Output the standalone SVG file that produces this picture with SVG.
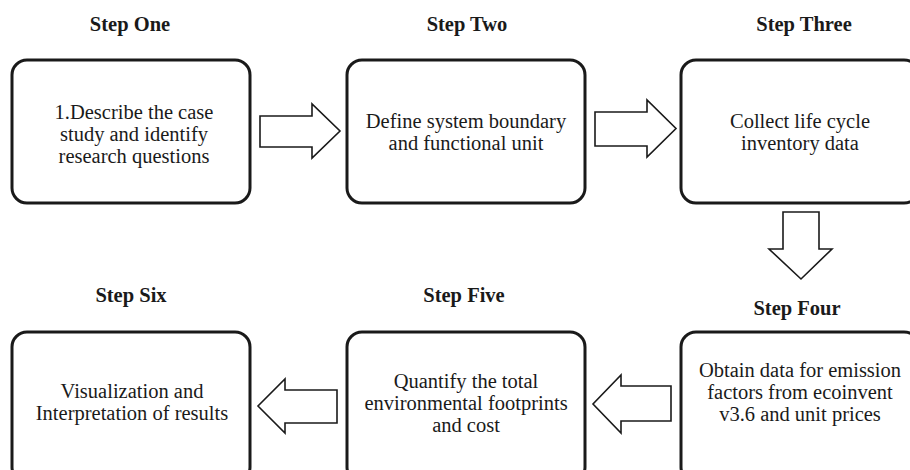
<svg xmlns="http://www.w3.org/2000/svg" width="910" height="470" viewBox="0 0 910 470">
<style>
.box{fill:#fff;stroke:#1a1a1a;stroke-width:3}
.arr{fill:#fff;stroke:#1a1a1a;stroke-width:1.6;stroke-linejoin:miter}
.lbl{font-weight:bold;font-size:20.5px;fill:#1a1a1a;text-anchor:middle}
.txt{font-size:20.5px;fill:#1a1a1a;text-anchor:middle}
</style>
<rect width="910" height="470" fill="#fff"/>
<g id="nodes" font-family="Liberation Serif">
<g id="step1">
<text class="lbl" x="130" y="31">Step One</text>
<rect class="box" x="12" y="60" width="238" height="143" rx="15"/>
<text class="txt" x="134" y="119">1.Describe the case</text>
<text class="txt" x="134" y="141">study and identify</text>
<text class="txt" x="134" y="163">research questions</text>
</g>
<g id="step2">
<text class="lbl" x="467" y="31">Step Two</text>
<rect class="box" x="347" y="60" width="238" height="143" rx="15"/>
<text class="txt" x="466" y="128">Define system boundary</text>
<text class="txt" x="466" y="150">and functional unit</text>
</g>
<g id="step3">
<text class="lbl" x="804" y="31">Step Three</text>
<rect class="box" x="681" y="60" width="238" height="143" rx="15"/>
<text class="txt" x="800" y="128">Collect life cycle</text>
<text class="txt" x="800" y="150">inventory data</text>
</g>
<g id="step4">
<text class="lbl" x="797" y="315">Step Four</text>
<rect class="box" x="681" y="332" width="238" height="150" rx="15"/>
<text class="txt" x="800" y="377">Obtain data for emission</text>
<text class="txt" x="800" y="399">factors from ecoinvent</text>
<text class="txt" x="800" y="421">v3.6 and unit prices</text>
</g>
<g id="step5">
<text class="lbl" x="464" y="302">Step Five</text>
<rect class="box" x="347" y="332" width="238" height="150" rx="15"/>
<text class="txt" x="466" y="388">Quantify the total</text>
<text class="txt" x="466" y="410">environmental footprints</text>
<text class="txt" x="466" y="432">and cost</text>
</g>
<g id="step6">
<text class="lbl" x="131" y="302">Step Six</text>
<rect class="box" x="12" y="332" width="238" height="150" rx="15"/>
<text class="txt" x="132" y="398">Visualization and</text>
<text class="txt" x="132" y="420">Interpretation of results</text>
</g>
</g>
<g id="connectors">
<polygon class="arr" points="260,116 312,116 312,104 340,131 312,158 312,147 260,147"/>
<polygon class="arr" points="595,112 647,112 647,100 676,128.5 647,157 647,146 595,146"/>
<polygon class="arr" points="783,212 819,212 819,249 832,249 801,279 769,249 783,249"/>
<polygon class="arr" points="671,386 621,386 621,375 593,404 621,433 621,421 671,421"/>
<polygon class="arr" points="337,390 285,390 285,379 258,406 285,433 285,423 337,423"/>
</g>
</svg>
